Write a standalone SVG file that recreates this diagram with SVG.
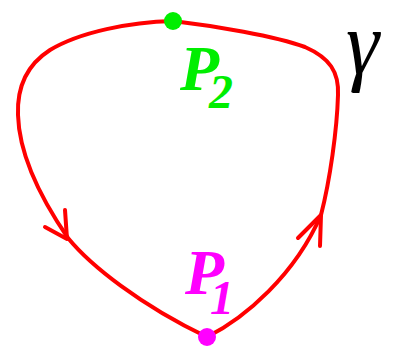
<svg xmlns="http://www.w3.org/2000/svg" width="394" height="347" viewBox="0 0 394 347">
<style>
.curve{fill:none;stroke:#ff0000;stroke-width:4;stroke-linejoin:round;stroke-linecap:round}
.lbl{font-family:"Liberation Serif","DejaVu Serif",serif;font-style:italic;font-weight:bold}
</style>
<rect width="394" height="347" fill="#ffffff"/>
<g id="connectors">
<path class="curve" d="M173,21 C130,22 80,32 50,50 C25,66 17,90 18,115 C19,150 35,190 68,238 C90,265 140,305 207,337 C245,318 295,275 321,215 C330,180 337,130 338,95 C339,72 330,58 305,47 C275,36 215,26 173,21 Z"/>
<polyline class="curve" points="45,227 67,239 65,210"/>
<polyline class="curve" points="298,238 321,215 320,246"/>
</g>
<g id="P2">
<circle cx="173" cy="21" r="9" fill="#00ee00"/>
<text class="lbl" x="180" y="90" font-size="64" fill="#00ee00">P</text>
<text class="lbl" x="209" y="108" font-size="48" fill="#00ee00">2</text>
</g>
<g id="P1">
<circle cx="207" cy="337" r="9" fill="#ff00ff"/>
<text class="lbl" x="185" y="294" font-size="64" fill="#ff00ff">P</text>
<text class="lbl" x="210" y="314" font-size="48" fill="#ff00ff">1</text>
</g>
<g id="gamma">
<text x="346" y="74" font-family="Liberation Serif,DejaVu Serif,serif" font-style="italic" font-size="84" fill="#000000" transform="translate(0,-6) scale(1,1.08)">γ</text>
</g>
</svg>
